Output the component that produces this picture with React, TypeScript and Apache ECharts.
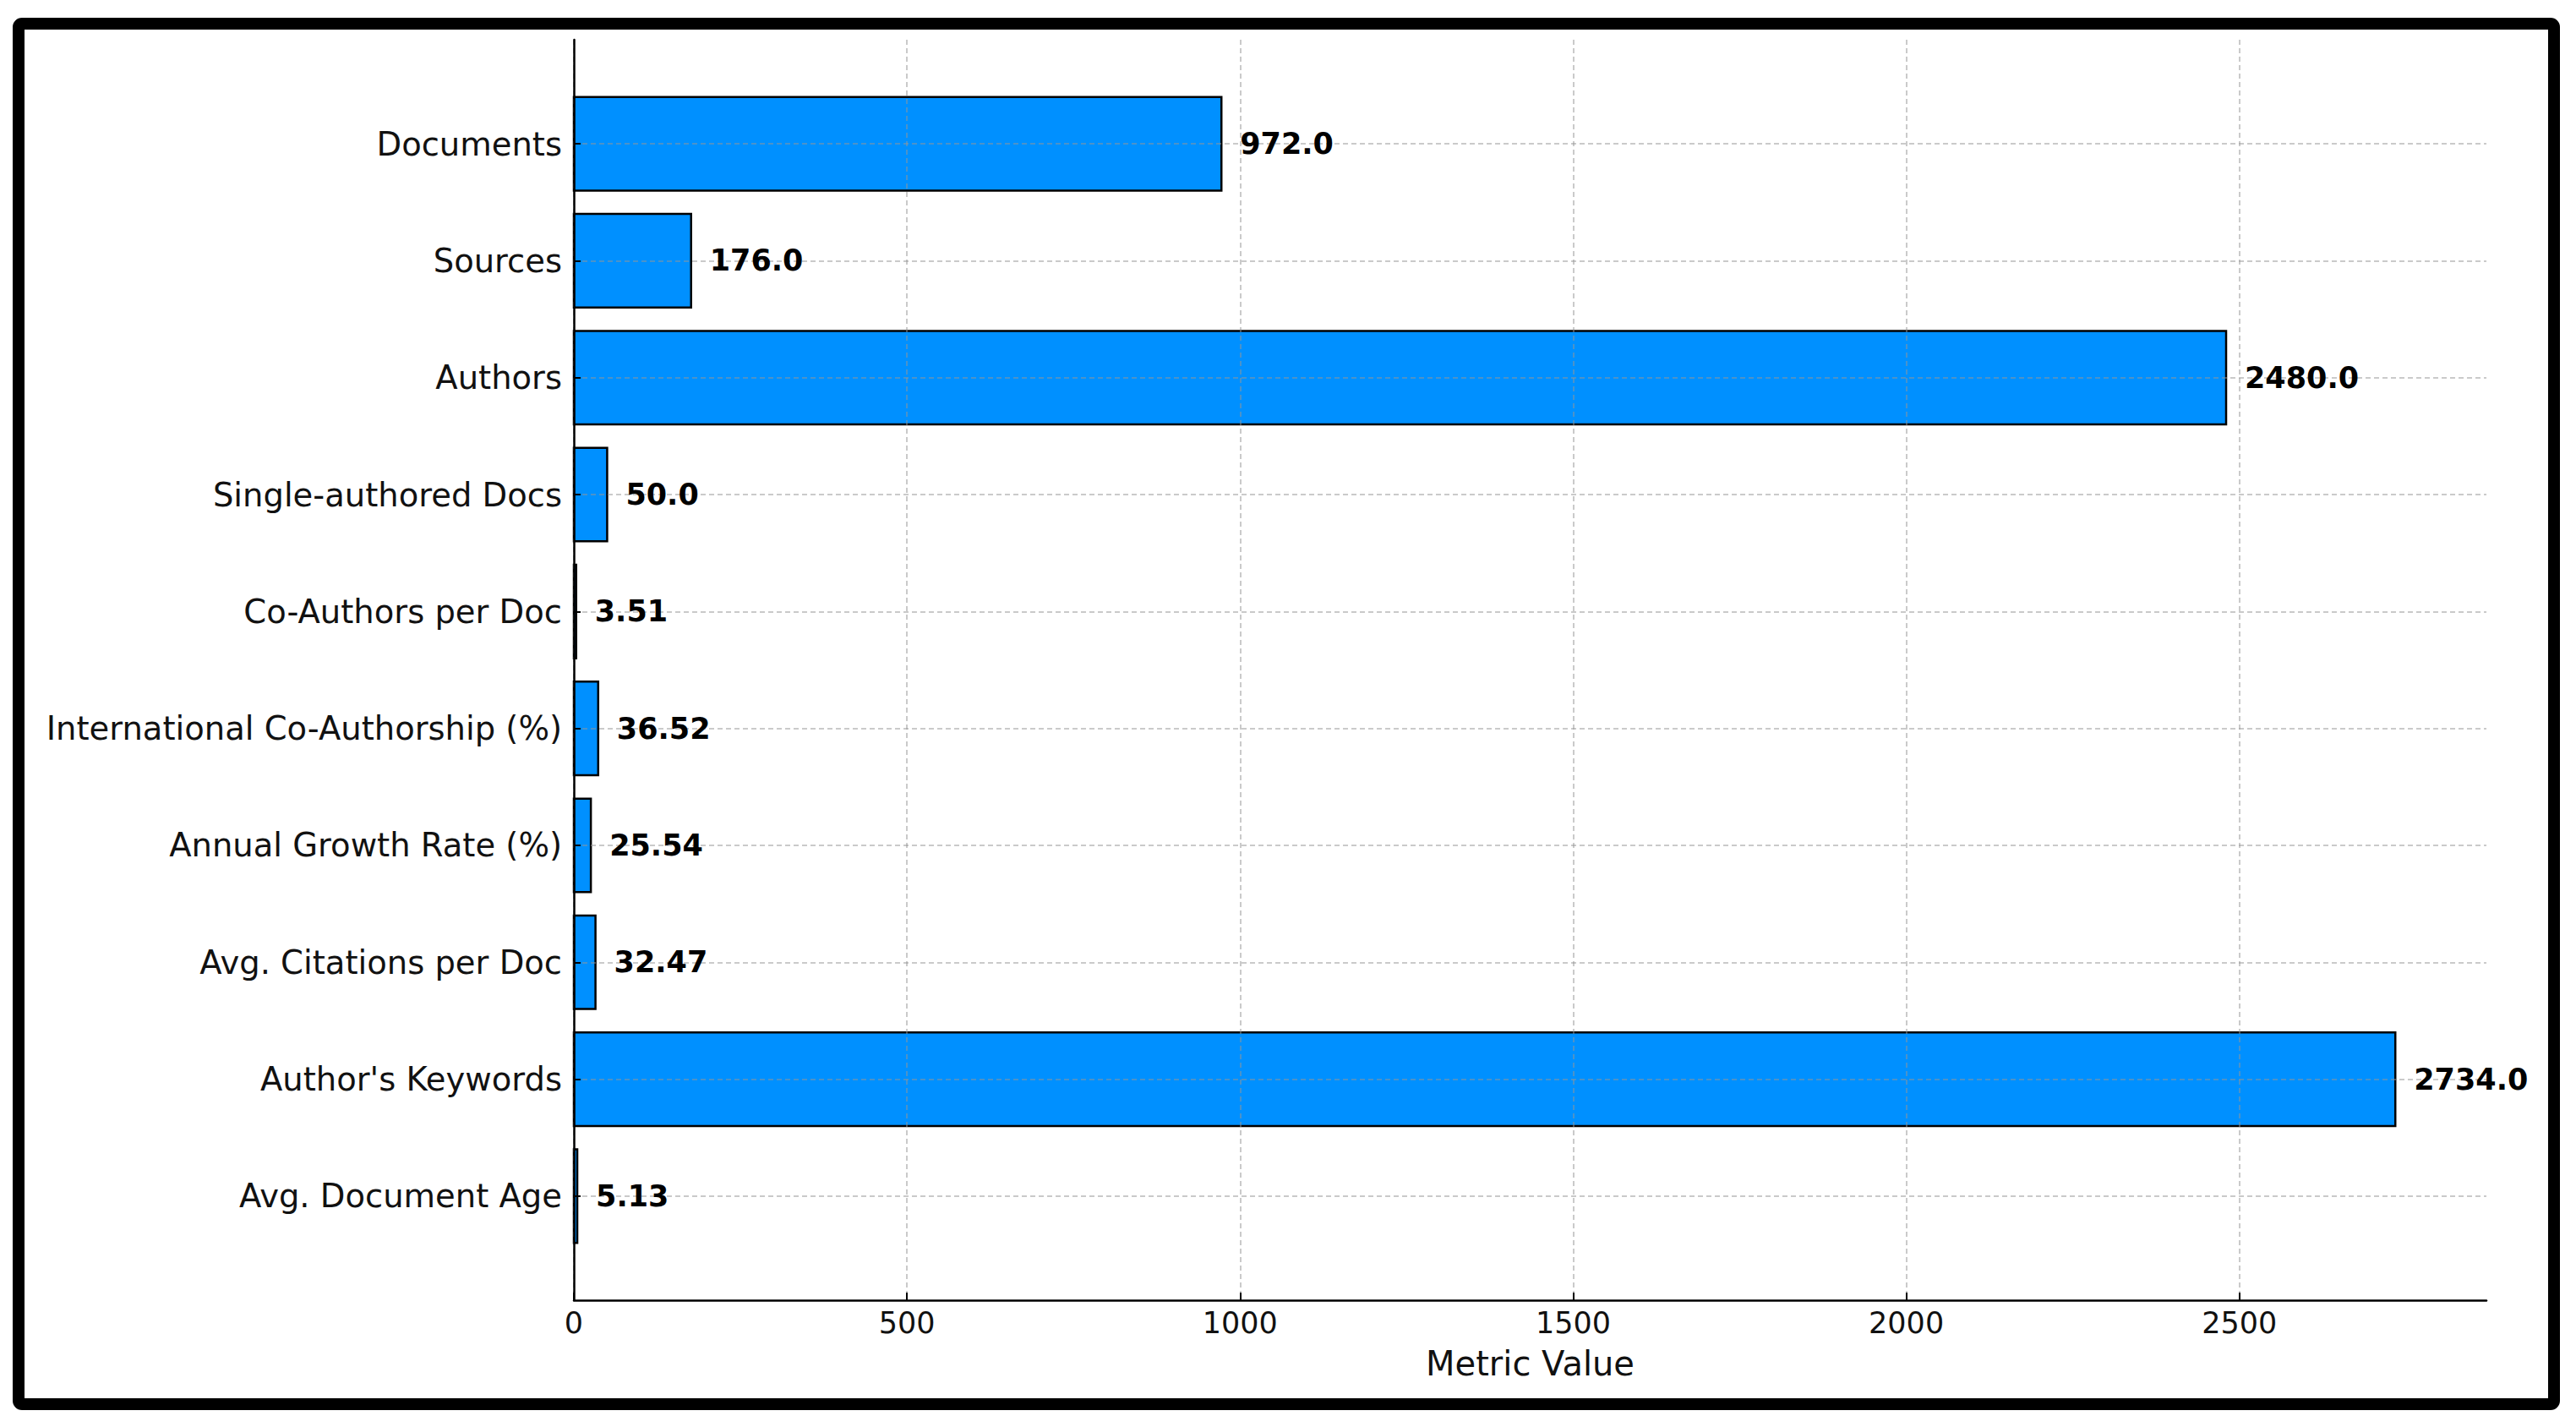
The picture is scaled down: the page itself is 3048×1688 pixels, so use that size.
import React, { useEffect, useRef } from 'react';
import * as echarts from 'echarts';

const categories = [
  'Documents',
  'Sources',
  'Authors',
  'Single-authored Docs',
  'Co-Authors per Doc',
  'International Co-Authorship (%)',
  'Annual Growth Rate (%)',
  'Avg. Citations per Doc',
  "Author's Keywords",
  'Avg. Document Age',
];
const values = [972, 176, 2480, 50, 3.51, 36.52, 25.54, 32.47, 2734, 5.13];
const xTicks = [0, 500, 1000, 1500, 2000, 2500];
const xAxisTitle = 'Metric Value';

const BAR_HEIGHT = 0.8;
const X_MAX = Math.max(...values) * 1.05;
const Y_PAD = 0.05 * (categories.length - 1 + BAR_HEIGHT);
const Y_MIN = -BAR_HEIGHT / 2 - Y_PAD;
const Y_MAX = categories.length - 1 + BAR_HEIGHT / 2 + Y_PAD;

const fmt = (v: number) => (Number.isInteger(v) ? v.toFixed(1) : String(v));

const FONT = '"DejaVu Sans", sans-serif';
const GRID_LINE = { color: 'rgba(150,150,150,0.5)', width: 2, type: [6, 4] as any };

export default function App() {
  const ref = useRef<HTMLDivElement>(null);
  useEffect(() => {
    if (!ref.current) return;
    const chart = echarts.init(ref.current, null, { renderer: 'svg' });
    const data = values.map((v, i) => [v, i]);
    const yIdx = categories.map((_, i) => i);
    chart.setOption({
      animation: false,
      backgroundColor: '#ffffff',
      textStyle: { fontFamily: FONT },
      grid: { left: 679, right: 106, top: 47, bottom: 150, containLabel: false },
      xAxis: {
        type: 'value',
        min: 0,
        max: X_MAX,
        z: 2,
        name: xAxisTitle,
        nameLocation: 'middle',
        nameGap: 55,
        nameTextStyle: { fontSize: 40, color: '#111', fontFamily: FONT },
        axisLine: { show: true, onZero: false, lineStyle: { color: '#000', width: 2.5 } },
        axisTick: { show: true, inside: true, length: 9, lineStyle: { color: '#000', width: 2 }, customValues: xTicks },
        axisLabel: {
          customValues: xTicks,
          formatter: (v: number) => String(Math.round(v)),
          fontSize: 35,
          color: '#111',
          fontFamily: FONT,
          margin: 9,
        },
        splitLine: { show: true, lineStyle: GRID_LINE },
      },
      yAxis: {
        type: 'value',
        min: Y_MIN,
        max: Y_MAX,
        inverse: true,
        z: 2,
        axisLine: { show: true, onZero: false, lineStyle: { color: '#000', width: 2.5 } },
        axisTick: { show: true, inside: true, length: 8, lineStyle: { color: '#000', width: 2 }, customValues: yIdx },
        axisLabel: {
          customValues: yIdx,
          formatter: (v: number) => categories[Math.round(v)] ?? '',
          fontSize: 38.5,
          color: '#111',
          fontFamily: FONT,
          margin: 14,
        },
        splitLine: { show: true, lineStyle: GRID_LINE },
      },
      series: [
        {
          type: 'custom',
          z: 1,
          data,
          encode: { x: 0, y: 1 },
          renderItem: (_params: any, api: any) => {
            const v = api.value(0);
            const i = api.value(1);
            const p0 = api.coord([0, i - BAR_HEIGHT / 2]);
            const p1 = api.coord([v, i + BAR_HEIGHT / 2]);
            return {
              type: 'rect',
              shape: {
                x: Math.min(p0[0], p1[0]),
                y: Math.min(p0[1], p1[1]),
                width: Math.abs(p1[0] - p0[0]),
                height: Math.abs(p1[1] - p0[1]),
              },
              style: { fill: '#0090ff', stroke: '#000', lineWidth: 2.5 },
            };
          },
        },
        {
          type: 'custom',
          z: 3,
          data,
          encode: { x: 0, y: 1 },
          renderItem: (_params: any, api: any) => {
            const v = api.value(0);
            const i = api.value(1);
            const p = api.coord([v, i]);
            return {
              type: 'text',
              x: p[0] + 22,
              y: p[1],
              style: {
                text: fmt(v),
                fill: '#000',
                fontSize: 35,
                fontWeight: 'bold',
                fontFamily: FONT,
                align: 'left',
                verticalAlign: 'middle',
                textAlign: 'left',
                textVerticalAlign: 'middle',
              },
            };
          },
        },
      ],
      graphic: [
        {
          type: 'rect',
          z: 100,
          silent: true,
          shape: { x: 22, y: 28, width: 3000, height: 1633, r: 4 },
          style: { fill: 'transparent', stroke: '#000', lineWidth: 14 },
        },
      ],
    });
    return () => chart.dispose();
  }, []);
  return (
    <div
      ref={ref}
      style={{ position: 'absolute', left: 0, top: 0, width: 3048, height: 1688 }}
    />
  );
}
